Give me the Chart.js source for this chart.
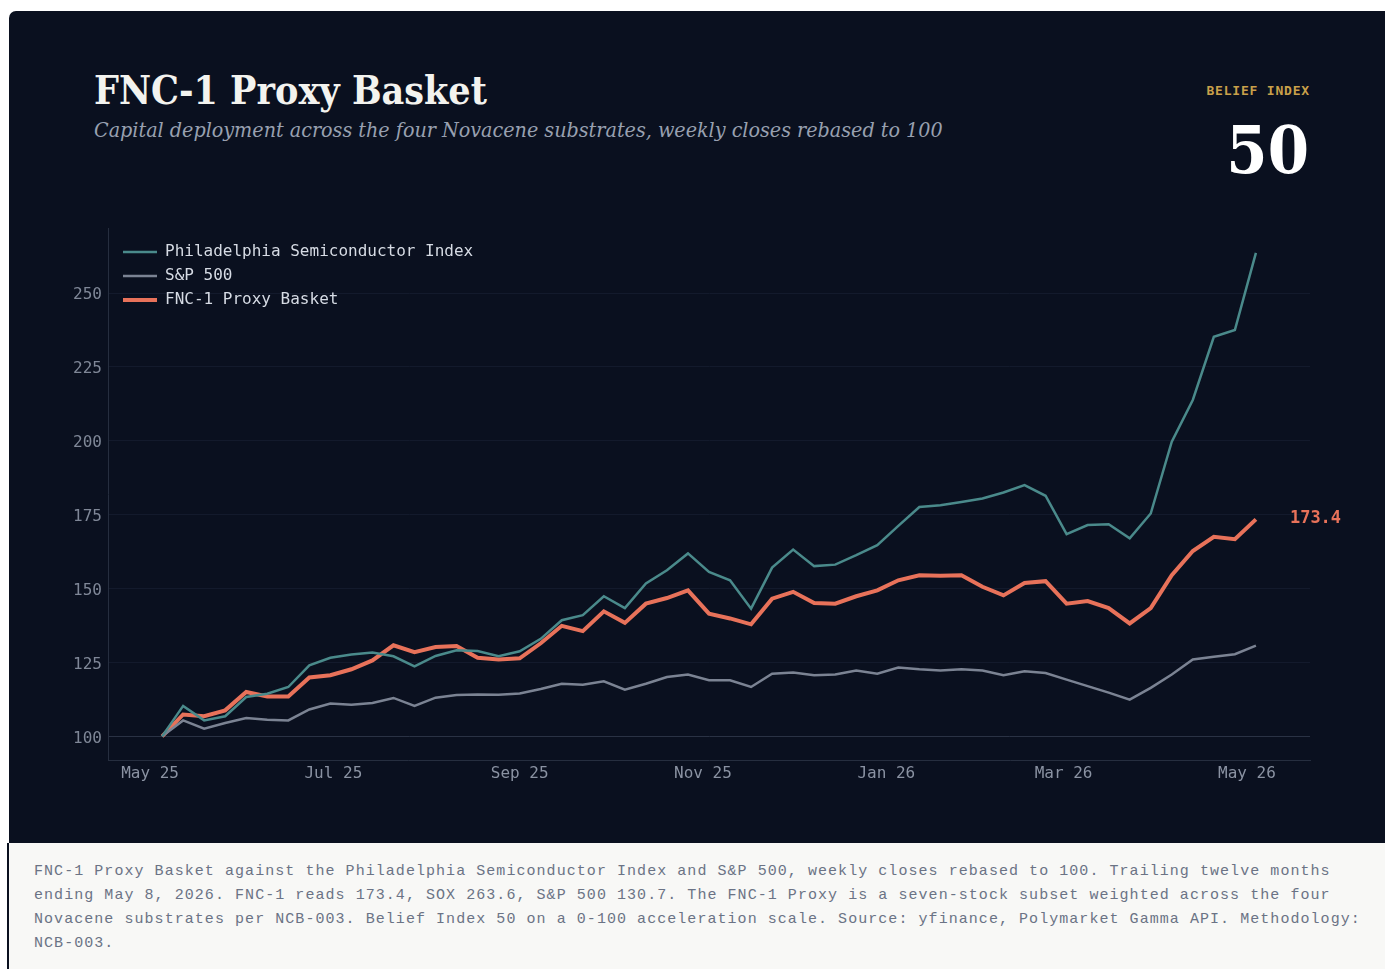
<!DOCTYPE html>
<html>
<head>
<meta charset="utf-8">
<script src="https://cdn.jsdelivr.net/npm/chart.js@4.4.1/dist/chart.umd.min.js"></script>
<style>
  html, body { margin: 0; padding: 0; background: #ffffff; overflow: hidden; }
  .panel { position: absolute; left: 9px; top: 11px; width: 1400px; height: 832px; background: #0a101f; border-top-left-radius: 7px; }
  .title { position: absolute; left: 94px; top: 71px; margin: 0; line-height: 1; font-family: 'DejaVu Serif Condensed', 'DejaVu Serif', serif; font-stretch: condensed; font-weight: bold; font-size: 39px; color: #f3f3ef; white-space: nowrap; }
  .subtitle { position: absolute; left: 94px; top: 119px; margin: 0; line-height: 1; font-family: 'DejaVu Serif Condensed', 'DejaVu Serif', serif; font-stretch: condensed; font-style: italic; font-size: 21.3px; color: #98a0b0; white-space: nowrap; }
  .belief-label { position: absolute; right: 75px; top: 84px; font-family: 'DejaVu Sans Mono', monospace; font-weight: bold; font-size: 13px; letter-spacing: 0.8px; color: #c9a04a; line-height: 1; }
  .belief-value { position: absolute; right: 76px; top: 117px; font-family: 'DejaVu Serif Condensed', 'DejaVu Serif', serif; font-stretch: condensed; font-weight: bold; font-size: 66px; color: #ffffff; line-height: 1; }
  #chart { position: absolute; left: 9px; top: 200px; }
  .caption { position: absolute; left: 7px; top: 843px; width: 1378px; height: 140px; background: #f8f8f6; border-left: 2px solid #0a101f; box-sizing: border-box; padding: 17px 0 0 25px; }
  .caption p { margin: 0; width: 1345px; font-family: 'Liberation Mono', monospace; font-size: 15px; letter-spacing: 1.05px; line-height: 24px; color: #6b7385; }
</style>
</head>
<body>
<div class="panel"></div>
<div class="title">FNC-1 Proxy Basket</div>
<div class="subtitle">Capital deployment across the four Novacene substrates, weekly closes rebased to 100</div>
<div class="belief-label">BELIEF INDEX</div>
<div class="belief-value">50</div>
<canvas id="chart" width="1376" height="600"></canvas>
<div class="caption"><p>FNC-1 Proxy Basket against the Philadelphia Semiconductor Index and S&amp;P 500, weekly closes rebased to 100. Trailing twelve months ending May 8, 2026. FNC-1 reads 173.4, SOX 263.6, S&amp;P 500 130.7. The FNC-1 Proxy is a seven-stock subset weighted across the four Novacene substrates per NCB-003. Belief Index 50 on a 0-100 acceleration scale. Source: yfinance, Polymarket Gamma API. Methodology: NCB-003.</p></div>

<script>
// weekly closes, rebased to 100
const weeks = [
    '2025-05-05', '2025-05-12', '2025-05-19', '2025-05-26', '2025-06-02', '2025-06-09', '2025-06-16',
    '2025-06-23', '2025-06-30', '2025-07-07', '2025-07-14', '2025-07-21', '2025-07-28', '2025-08-04',
    '2025-08-11', '2025-08-18', '2025-08-25', '2025-09-01', '2025-09-08', '2025-09-15', '2025-09-22',
    '2025-09-29', '2025-10-06', '2025-10-13', '2025-10-20', '2025-10-27', '2025-11-03', '2025-11-10',
    '2025-11-17', '2025-11-24', '2025-12-01', '2025-12-08', '2025-12-15', '2025-12-22', '2025-12-29',
    '2026-01-05', '2026-01-12', '2026-01-19', '2026-01-26', '2026-02-02', '2026-02-09', '2026-02-16',
    '2026-02-23', '2026-03-02', '2026-03-09', '2026-03-16', '2026-03-23', '2026-03-30', '2026-04-06',
    '2026-04-13', '2026-04-20', '2026-04-27', '2026-05-04'
];

const soxValues = [
    100, 110.3, 105.4, 106.8, 113.3, 114.4, 116.7, 124.0, 126.6, 127.7, 128.4, 127.1, 123.7, 127.2,
    129.1, 128.9, 127.1, 128.8, 133.0, 139.3, 141.0, 147.4, 143.4, 151.7, 156.2, 161.9, 155.6, 152.8,
    143.2, 157.1, 163.2, 157.6, 158.1, 161.3, 164.7, 171.2, 177.6, 178.2, 179.3, 180.5, 182.5, 185.0,
    181.4, 168.4, 171.5, 171.8, 167.0, 175.4, 199.7, 213.8, 235.2, 237.5, 263.6
];

const spxValues = [
    100, 105.4, 102.6, 104.5, 106.2, 105.6, 105.4, 109.1, 111.1, 110.7, 111.3, 113.0, 110.3, 113.1,
    114.0, 114.2, 114.1, 114.5, 116.0, 117.8, 117.5, 118.6, 115.8, 117.8, 120.1, 120.9, 119.0, 119.0,
    116.7, 121.2, 121.6, 120.7, 120.9, 122.3, 121.2, 123.3, 122.7, 122.3, 122.7, 122.3, 120.7, 122.0,
    121.4, 119.2, 117.0, 114.8, 112.4, 116.4, 120.9, 126.0, 126.9, 127.8, 130.7
];

const fncValues = [
    100, 107.4, 106.8, 108.8, 115.0, 113.5, 113.5, 119.9, 120.7, 122.7, 125.7, 130.8, 128.5, 130.2,
    130.6, 126.6, 126.0, 126.4, 131.5, 137.4, 135.6, 142.3, 138.4, 144.9, 146.8, 149.4, 141.5, 139.9,
    137.9, 146.6, 148.9, 145.1, 144.9, 147.4, 149.4, 152.8, 154.5, 154.3, 154.5, 150.6, 147.7, 151.9,
    152.5, 144.9, 145.8, 143.4, 138.2, 143.4, 154.5, 162.7, 167.5, 166.7, 173.4
];

const tickDates = ['2025-05-01', '2025-07-01', '2025-09-01', '2025-11-01', '2026-01-01', '2026-03-01', '2026-05-01'];
const tickLabels = ['May 25', 'Jul 25', 'Sep 25', 'Nov 25', 'Jan 26', 'Mar 26', 'May 26'];
const yTicks = [100, 125, 150, 175, 200, 225, 250];

const mono = "'DejaVu Sans Mono', monospace";
const origin = Date.parse('2025-05-01');
const toDay = d => (Date.parse(d) - origin) / 864e5;
const toPoints = vals => vals.map((v, i) => ({ x: toDay(weeks[i]), y: v }));

// push the legend a bit inside the plot area
const legendNudge = {
    id: 'legendNudge',
    afterLayout(chart) {
        chart.legend.left += 7;
        chart.legend.top += 36;
    }
};

// value tag to the right of the last FNC-1 point
const lastLabel = {
    id: 'lastLabel',
    afterDatasetsDraw(chart) {
        const meta = chart.getDatasetMeta(2);
        const p = meta.data[meta.data.length - 1];
        const ctx = chart.ctx;
        ctx.save();
        ctx.font = 'bold 17px ' + mono;
        ctx.fillStyle = '#e8725a';
        ctx.textBaseline = 'middle';
        ctx.textAlign = 'left';
        ctx.fillText(fncValues[fncValues.length - 1].toFixed(1), p.x + 34, p.y - 1);
        ctx.restore();
    }
};

const ctx = document.getElementById('chart').getContext('2d');
const chart = new Chart(ctx, {
    type: 'line',
    data: {
        datasets: [{
            label: 'Philadelphia Semiconductor Index',
            data: toPoints(soxValues),
            borderColor: '#4a8a8b',
            borderWidth: 2.5
        }, {
            label: 'S&P 500',
            data: toPoints(spxValues),
            borderColor: '#7b8393',
            borderWidth: 2.5
        }, {
            label: 'FNC-1 Proxy Basket',
            data: toPoints(fncValues),
            borderColor: '#e8725a',
            borderWidth: 4
        }]
    },
    options: {
        responsive: false,
        animation: false,
        devicePixelRatio: 1,
        layout: { padding: { left: 0, top: 28, right: 75, bottom: 0 } },
        elements: {
            point: { radius: 0 },
            line: { tension: 0, borderJoinStyle: 'miter' }
        },
        scales: {
            x: {
                type: 'linear',
                min: toDay('2025-04-17'),
                max: toDay('2026-05-22'),
                afterBuildTicks: s => { s.ticks = tickDates.map(d => ({ value: toDay(d) })); },
                afterFit: s => { s.height = 40; },
                grid: { display: false, drawTicks: false },
                border: { display: true, color: '#262e3f', width: 1 },
                ticks: {
                    autoSkip: false,
                    maxRotation: 0,
                    padding: 4,
                    color: '#8a92a2',
                    font: { family: mono, size: 16 },
                    callback: (v, i) => tickLabels[i]
                }
            },
            y: {
                min: 92,
                max: 272,
                afterBuildTicks: s => { s.ticks = yTicks.map(v => ({ value: v })); },
                afterFit: s => { s.width = 99; },
                grid: {
                    drawTicks: false,
                    color: c => c.tick && c.tick.value === 100 ? '#2a3244' : '#131a2c',
                    lineWidth: 1
                },
                border: { display: true, color: '#262e3f', width: 1 },
                ticks: {
                    padding: 6,
                    labelOffset: 2,
                    color: '#7f8797',
                    font: { family: mono, size: 16 }
                }
            }
        },
        plugins: {
            legend: {
                position: 'chartArea',
                align: 'start',
                labels: {
                    color: '#d6dbe4',
                    font: { family: mono, size: 16 },
                    usePointStyle: true,
                    pointStyle: 'line',
                    pointStyleWidth: 34,
                    boxHeight: 16,
                    padding: 8
                }
            },
            tooltip: { enabled: false }
        }
    },
    plugins: [legendNudge, lastLabel]
});
</script>
</body>
</html>
